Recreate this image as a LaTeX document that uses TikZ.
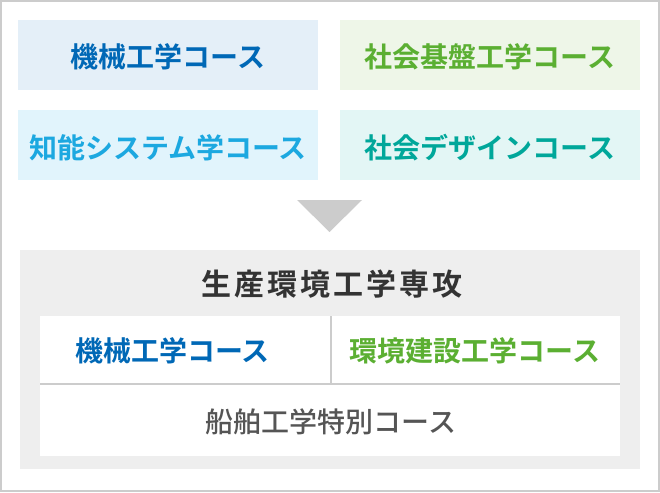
\documentclass[tikz,border=0pt]{standalone}
\usepackage{fontspec}
\newfontfamily\jpbold{Noto Sans CJK JP Bold}
\newfontfamily\jpmed{Noto Sans CJK JP Medium}
\newfontfamily\jptitle[LetterSpace=10]{Noto Sans CJK JP Bold}
\definecolor{framegray}{HTML}{CCCCCC}
\definecolor{panelgray}{HTML}{EEEEEE}
\definecolor{kikaibg}{HTML}{E4EFF8}
\definecolor{kikaifg}{HTML}{0068B6}
\definecolor{chinoubg}{HTML}{E1F4FC}
\definecolor{chinoufg}{HTML}{1CA8E0}
\definecolor{kibanbg}{HTML}{EEF6E8}
\definecolor{kibanfg}{HTML}{5BAF32}
\definecolor{designbg}{HTML}{E3F6F5}
\definecolor{designfg}{HTML}{00A79A}
\definecolor{titlefg}{HTML}{333333}
\definecolor{tokubetsufg}{HTML}{555555}
\tikzset{
  coursebox/.style={minimum width=300pt,minimum height=70pt,inner sep=0pt,
    text height=26pt,text depth=0pt,font=\jpbold\fontsize{28}{28}\selectfont},
  celltext/.style={inner sep=0pt,text height=21.5pt,text depth=0pt,
    font=\jpbold\fontsize{28}{28}\selectfont},
  divider/.style={framegray,line width=2pt}
}
\begin{document}
\begin{tikzpicture}[x=1pt,y=-1pt]
    \useasboundingbox (0,0) rectangle (660,492);
    \draw[framegray,line width=2pt] (1,1) rectangle (659,491);
    % undergraduate courses
    \node[coursebox,fill=kikaibg,text=kikaifg] (kikai) at (168,55) {機械工学コース};
    \node[coursebox,fill=kibanbg,text=kibanfg] (kiban) at (490,55) {社会基盤工学コース};
    \node[coursebox,fill=chinoubg,text=chinoufg] (chinou) at (168,145) {知能システム学コース};
    \node[coursebox,fill=designbg,text=designfg] (design) at (490,145) {社会デザインコース};
    \fill[framegray] (297,200) -- (362,200) -- (329.5,232) -- cycle;
    % graduate major
    \node[fill=panelgray,minimum width=620pt,minimum height=219pt,inner sep=0pt,anchor=north west] (senkou) at (20,250) {};
    \node[celltext,text height=23pt,text=titlefg,font=\jptitle\fontsize{30}{30}\selectfont] (title) at (332,284) {生産環境工学専攻};
    \fill[white] (40,316) rectangle (620,456);
    \coordinate (mid) at (331,316);
    \coordinate (split) at (331,384);
    \node[celltext,text=kikaifg] (mkikai) at (172.5,350.5) {機械工学コース};
    \node[celltext,text=kibanfg] (kensetsu) at (475,350.5) {環境建設工学コース};
    \node[celltext,text=tokubetsufg,font=\jpmed\fontsize{28}{28}\selectfont] (senpaku) at (331,422) {船舶工学特別コース};
    \draw[divider] (mid) -- (split);
    \draw[divider] (40,384) -- (620,384);
\end{tikzpicture}
\end{document}
